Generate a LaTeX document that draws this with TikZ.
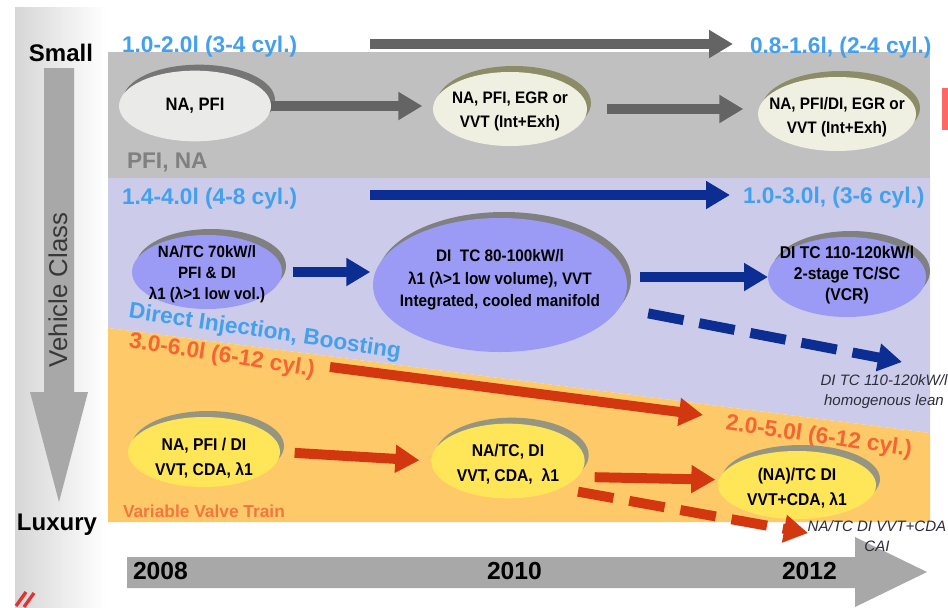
\documentclass[tikz,border=0pt]{standalone}
\usepackage{fontspec}
\setmainfont{Liberation Sans}
\newfontfamily\narrowf[FakeStretch=0.92]{Liberation Sans}
\usetikzlibrary{shapes.geometric,arrows.meta,shadows}
\definecolor{tblue}{RGB}{66,160,238}
\definecolor{tred}{RGB}{245,100,50}
\definecolor{torange}{RGB}{242,118,62}
\definecolor{bandgrey}{RGB}{192,192,192}
\definecolor{bandblue}{RGB}{204,204,234}
\definecolor{bandorange}{RGB}{254,202,105}
\definecolor{agrey}{RGB}{100,100,100}
\definecolor{ablue}{RGB}{12,45,145}
\definecolor{ared}{RGB}{210,55,15}
\definecolor{gfillA}{RGB}{234,234,232}
\definecolor{gfillB}{RGB}{240,240,226}
\definecolor{gshadA}{RGB}{118,118,118}
\definecolor{gshadB}{RGB}{140,140,104}
\definecolor{bfill}{RGB}{155,155,246}
\definecolor{bshad}{RGB}{128,128,128}
\definecolor{yfill}{RGB}{255,230,88}
\definecolor{yshad}{RGB}{150,150,128}
\definecolor{bigarrow}{RGB}{168,168,168}
\definecolor{captxt}{RGB}{45,45,60}
\begin{document}
\begin{tikzpicture}[x=0.75pt,y=-0.75pt,
  every node/.style={inner sep=0pt, outer sep=0pt},
  rangetxt/.style={font=\bfseries\fontsize{17}{20}\selectfont},
  yeartxt/.style={font=\bfseries\fontsize{18.5}{22}\selectfont, anchor=base west},
  sizetxt/.style={font=\bfseries\fontsize{18}{22}\selectfont, anchor=base},
  ellbase/.style={ellipse, draw=none},
  gellA/.style={ellbase, fill=gfillA, general shadow={fill=gshadA, shadow xshift=3pt, shadow yshift=4.5pt}},
  gellB/.style={ellbase, fill=gfillB, general shadow={fill=gshadB, shadow xshift=3pt, shadow yshift=4.5pt}},
  bell/.style={ellbase, fill=bfill, general shadow={fill=bshad, shadow xshift=3pt, shadow yshift=4.5pt}},
  yell/.style={ellbase, fill=yfill, general shadow={fill=yshad, shadow xshift=3pt, shadow yshift=4.5pt}},
  etxt/.style={font=\narrowf\bfseries\fontsize{12.5}{18}\selectfont, align=center},
  captext/.style={font=\itshape\fontsize{11.3}{15}\selectfont, text=captxt, align=center},
  fat/.style={line width=7.5pt, -{Triangle[length=18pt,width=20pt]}},
  garrow/.style={fat, draw=agrey},
  barrow/.style={fat, draw=ablue},
  rarrow/.style={fat, draw=ared},
  dasharrow/.style={dash pattern=on 27pt off 12pt}
]
\useasboundingbox (0,0) rectangle (948,607);
\fill[white] (0,0) rectangle (948,607);
% left panel
\shade[left color=black!16, right color=white] (15,7) rectangle (106,607);
% bands
\fill[bandgrey] (108,52) rectangle (930,178);
\fill[bandblue] (108,178) -- (930,178) -- (930,433) -- (108,328) -- cycle;
\fill[bandorange] (108,328) -- (930,433) -- (930,522) -- (108,522) -- cycle;
% right red mark and bottom-left slashes
\fill[red!60!white] (942,88) rectangle (948,130);
\draw[red!85!black!80!white, line width=2.5pt] (16,606) -- (26,592);
\draw[red!85!black!80!white, line width=2.5pt] (24,607) -- (34,593);
% vertical arrow
\fill[bigarrow] (44,68) -- (74,68) -- (74,392) -- (88,392) -- (59,502) -- (30,392) -- (44,392) -- cycle;
\node[sizetxt] (small) at (61,61) {Small};
\node[sizetxt] (luxury) at (57,530) {Luxury};
\node[font=\fontsize{19.3}{22}\selectfont, text=black!78, rotate=90] (vclass) at (58,290) {Vehicle Class};
% bottom time arrow
\fill[bigarrow] (127,557) -- (855,557) -- (855,537) -- (927,572) -- (855,607) -- (855,588) -- (127,588) -- cycle;
\node[yeartxt] (y2008) at (133,579) {2008};
\node[yeartxt] (y2010) at (487,579) {2010};
\node[yeartxt] (y2012) at (782,579) {2012};
% range labels
\node[rangetxt, text=tblue, anchor=base west] (r1) at (122,52) {1.0-2.0l (3-4 cyl.)};
\node[rangetxt, text=tblue, anchor=base west] (r2) at (750,53) {0.8-1.6l, (2-4 cyl.)};
\node[rangetxt, text=tblue, anchor=base west] (r3) at (122,204) {1.4-4.0l (4-8 cyl.)};
\node[rangetxt, text=tblue, anchor=base west] (r4) at (743,203) {1.0-3.0l, (3-6 cyl.)};
\node[rangetxt, text=black!50, anchor=base west] (pfina) at (127,168) {PFI, NA};
\node[rangetxt, text=tblue, anchor=base, rotate=-8.5] (dib) at (264,338) {Direct Injection, Boosting};
\node[rangetxt, text=tred, anchor=base, rotate=-9] (r5) at (221,362) {3.0-6.0l (6-12 cyl.)};
\node[rangetxt, text=tred, anchor=base, rotate=-8] (r6) at (818,443) {2.0-5.0l (6-12 cyl.)};
\node[font=\bfseries\fontsize{13}{16}\selectfont, text=torange, anchor=base west] (vvt) at (123,517) {Variable Valve Train};
% top arrows
\coordinate (tg1) at (370,44);
\coordinate (tg2) at (733,44);
\draw[garrow] (tg1) -- (tg2);
\coordinate (tb1) at (370,195);
\coordinate (tb2) at (730,195);
\draw[barrow] (tb1) -- (tb2);
\coordinate (tr1) at (330,367);
\coordinate (tr2) at (703,415);
\draw[rarrow] (tr1) -- (tr2);
% grey band ellipses
\node[gellA, minimum width=114pt, minimum height=53pt] (g1) at (195,106) {};
\node[etxt, font=\narrowf\bfseries\fontsize{13.5}{18}\selectfont] (g1t) at (g1) {NA, PFI};
\node[gellB, minimum width=115.5pt, minimum height=55.5pt] (g2) at (510,109) {};
\node[etxt] (g2t) at (510,111) {NA, PFI, EGR or\\VVT (Int+Exh)};
\node[gellB, minimum width=118.5pt, minimum height=55.5pt] (g3) at (837,114) {};
\node[etxt] (g3t) at (837,117) {NA, PFI/DI, EGR or\\VVT (Int+Exh)};
\draw[garrow, shorten >=8pt] (g1.east) -- (g1.east -| g2.west);
\draw[garrow, shorten <=15pt, shorten >=11pt] (g2.east) -- (g2.east -| g3.west);
% blue band ellipses
\node[bell, minimum width=112.5pt, minimum height=55.5pt] (b1) at (207,272) {};
\node[etxt, font=\narrowf\bfseries\fontsize{12.3}{15.75}\selectfont] (b1t) at (207,274) {NA/TC 70kW/l\\PFI \& DI\\λ1 (λ>1 low vol.)};
\node[bell, minimum width=190.5pt, minimum height=100.5pt] (b2) at (500,285) {};
\node[etxt, font=\narrowf\bfseries\fontsize{12.5}{17}\selectfont] (b2t) at (500,280) {DI\ \ TC 80-100kW/l\\λ1 (λ>1 low volume), VVT\\Integrated, cooled manifold};
\node[bell, minimum width=118.5pt, minimum height=60pt] (b3) at (847,277) {};
\node[etxt, font=\narrowf\bfseries\fontsize{12.8}{16}\selectfont] (b3t) at (847,275) {DI TC 110-120kW/l\\2-stage TC/SC\\(VCR)};
\draw[barrow, shorten <=8pt, shorten >=2pt] (b1.east) -- (b1.east -| b2.west);
\draw[barrow, shorten <=10pt] (b3.west -| b2.east) -- (b3.west);
\coordinate (bdE) at (902,362);
\draw[barrow, dasharrow, shorten <=22pt] (b2) -- (bdE);
\node[captext] (cap1) at (884,392) {DI TC 110-120kW/l\\homogenous lean};
% orange band ellipses
\node[yell, minimum width=114pt, minimum height=52.5pt] (yl1) at (204,452) {};
\node[etxt, font=\narrowf\bfseries\fontsize{12.8}{18.75}\selectfont] (yl1t) at (204,458) {NA, PFI / DI\\VVT, CDA, λ1};
\node[yell, minimum width=115pt, minimum height=56pt] (yl2) at (508,461) {};
\node[etxt, font=\narrowf\bfseries\fontsize{12.8}{18.75}\selectfont] (yl2t) at (508,464) {NA/TC, DI\\VVT, CDA,\ \ λ1};
\node[yell, minimum width=118.5pt, minimum height=51pt] (yl3) at (797,485) {};
\node[etxt, font=\narrowf\bfseries\fontsize{12.8}{18.75}\selectfont] (yl3t) at (797,488) {(NA)/TC DI\\VVT+CDA, λ1};
\draw[rarrow, shorten <=11pt, shorten >=9pt] (yl1.east) -- (yl2.west);
\draw[rarrow, shorten <=7.5pt, shorten >=2pt] ([yshift=-12pt]yl2.east) -- ([yshift=4pt]yl3.west);
\coordinate (rdE) at (808,533);
\draw[rarrow, dasharrow] ([xshift=-5pt,yshift=-23pt]yl2.east) -- (rdE);
\node[captext] (cap2) at (877,536) {NA/TC DI VVT+CDA\\CAI};
\end{tikzpicture}
\end{document}
